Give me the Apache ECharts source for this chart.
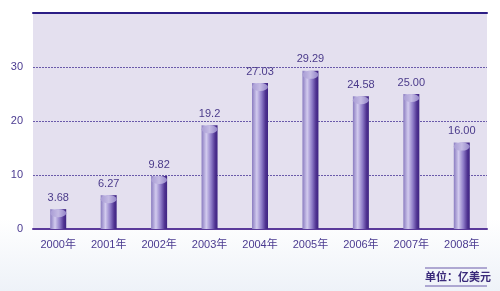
<!DOCTYPE html>
<html><head><meta charset="utf-8">
<style>
html,body{margin:0;padding:0;width:500px;height:291px;overflow:hidden;
background:linear-gradient(180deg,#ffffff 0%,#ffffff 75%,#eef2f8 100%);}
#c{width:500px;height:291px;}
</style>
<script src="https://cdn.jsdelivr.net/npm/echarts@6/dist/echarts.min.js"></script>
</head><body><div id="c"></div>
<script>
var categories = ['2000年','2001年','2002年','2003年','2004年','2005年','2006年','2007年','2008年'];
var values = [3.68, 6.27, 9.82, 19.2, 27.03, 29.29, 24.58, 25.00, 16.00];
var valueLabels = ['3.68','6.27','9.82','19.2','27.03','29.29','24.58','25.00','16.00'];
var unitText = '单位：亿美元';

var chart = echarts.init(document.getElementById('c'), null, {renderer:'canvas'});
var font = '"Liberation Sans", Arial, "Noto Sans CJK SC", sans-serif';
chart.setOption({
  animation:false,
  grid:{left:33,right:13,top:13,bottom:62,show:true,backgroundColor:'#e4e0ef',borderWidth:0},
  xAxis:[{
    type:'category', data:categories, position:'bottom',
    axisLine:{lineStyle:{color:'#5a3a9a',width:2}},
    axisTick:{show:false},
    axisLabel:{color:'#4a3a90',fontSize:11,fontFamily:font,margin:10}
  },{
    type:'category', data:categories, position:'top',
    axisLine:{lineStyle:{color:'#2b1d85',width:2}},
    axisTick:{show:false}, axisLabel:{show:false}
  }],
  yAxis:{
    type:'value', min:0, max:40, interval:10,
    axisLine:{show:false}, axisTick:{show:false},
    axisLabel:{color:'#4a3a90',fontSize:11,fontFamily:font,margin:10,
      formatter:function(v){return v===40?'':String(v);}},
    splitLine:{lineStyle:{color:'#6a5aaa',type:[2,1],width:1}}
  },
  series:[{
    type:'bar', data:values, barWidth:16, z:2,
    itemStyle:{color:new echarts.graphic.LinearGradient(0,0,1,0,[
      {offset:0,color:'#8a7cc0'},{offset:0.3,color:'#d2cbee'},
      {offset:0.6,color:'#8e7cc8'},{offset:0.85,color:'#4e3290'},{offset:1,color:'#3e2482'}])}
  },{
    type:'pictorialBar', data:values, symbol:'circle', symbolSize:[16,8],
    symbolPosition:'end', symbolOffset:[0,0], z:3, barGap:'-100%',
    itemStyle:{color:new echarts.graphic.LinearGradient(0,0,1,0,[
      {offset:0,color:'#a89cd4'},{offset:0.5,color:'#c4bbe4'},{offset:1,color:'#9384c8'}])},
    label:{show:true,position:'top',distance:6,color:'#4a3a8a',fontSize:11,fontFamily:font,
      formatter:function(p){return valueLabels[p.dataIndex];}}
  }],
  graphic:[
    {type:'line',shape:{x1:425,y1:268,x2:487,y2:268},style:{stroke:'#6a5aaa',lineWidth:1}},
    {type:'line',shape:{x1:425,y1:286,x2:487,y2:286},style:{stroke:'#6a5aaa',lineWidth:1}},
    {type:'text',left:425,top:271,style:{text:unitText,fill:'#3a2a7a',font:'bold 11px "Noto Sans CJK SC", sans-serif'}}
  ]
});
</script></body></html>
